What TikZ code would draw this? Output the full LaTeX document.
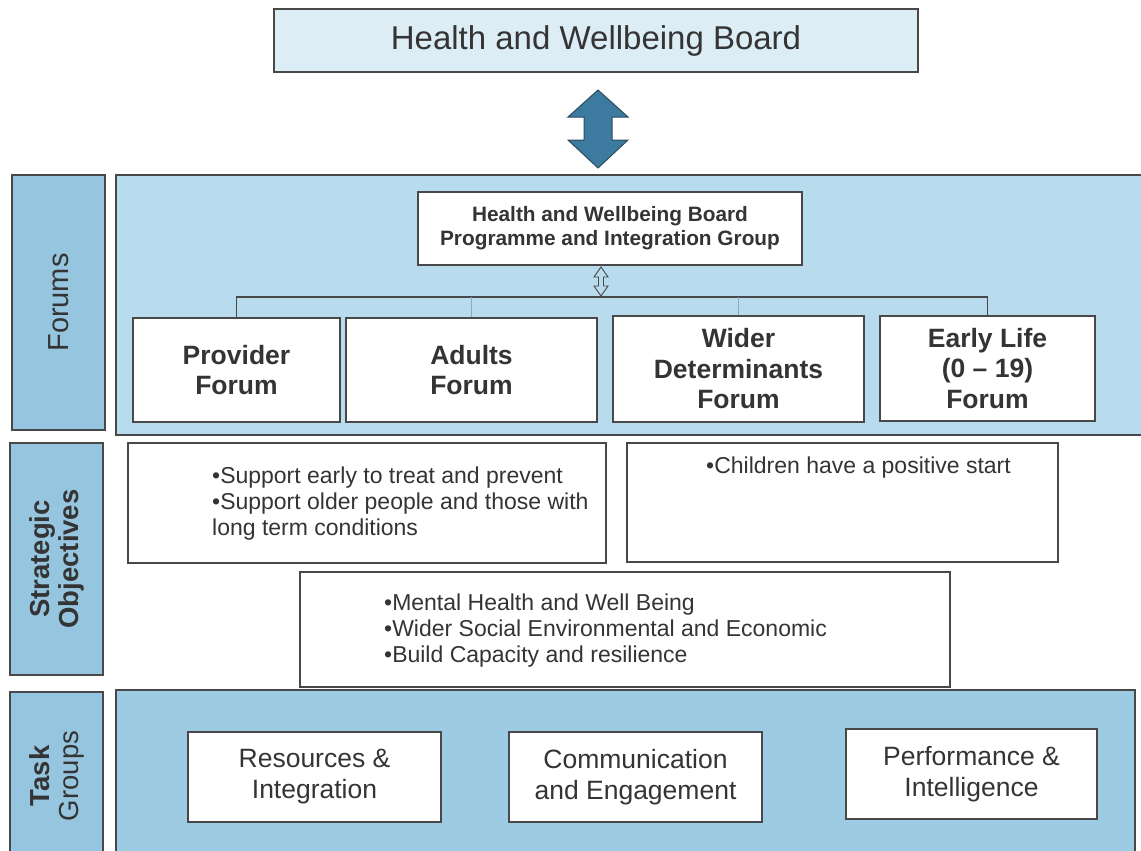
\documentclass[tikz,border=0pt]{standalone}
\usepackage{fontspec}
\setmainfont{Liberation Sans}
\usetikzlibrary{calc}
\definecolor{topfill}{RGB}{221,237,246}
\definecolor{forumfill}{RGB}{184,219,238}
\definecolor{labelfill}{RGB}{150,197,224}
\definecolor{taskfill}{RGB}{158,203,228}
\definecolor{edge}{RGB}{72,72,72}
\definecolor{ink}{RGB}{52,52,52}
\definecolor{arrowblue}{RGB}{60,122,160}
\definecolor{arrowedge}{RGB}{45,75,95}
\definecolor{faint}{RGB}{140,170,190}
\begin{document}
\begin{tikzpicture}[x=1pt,y=-1pt,
  frame/.style={draw=edge, line width=1.3pt, inner sep=0pt, text=ink},
  wbox/.style={frame, fill=white},
  lab/.style={frame, fill=labelfill, rotate=90, align=center},
  forumtxt/.style={font=\fontsize{26.5}{30.5}\selectfont\bfseries, align=center},
  tasktxt/.style={font=\fontsize{26.5}{31}\selectfont, align=center},
  sotxt/.style={inner sep=0pt, anchor=north west, align=left, text=ink,
    font=\fontsize{23}{26}\selectfont},
  line/.style={draw=edge, line width=1.3pt}]
\useasboundingbox (0,0) rectangle (1141,851);

% top board
\node[frame, fill=topfill, minimum width=644pt, minimum height=63pt,
  font=\fontsize{33}{36}\selectfont] (board) at (596,40.5) {Health and Wellbeing Board};

% big double arrow
\draw[fill=arrowblue, draw=arrowedge, line width=1pt]
  (598,90) -- (628,117) -- (612,117) -- (612,140) -- (628,140) -- (598,168)
  -- (568,140) -- (584,140) -- (584,117) -- (568,117) -- cycle;

% containers
\node[frame, fill=forumfill, minimum width=1034pt, minimum height=260pt] (forums) at (633,305) {};
\node[frame, fill=taskfill, minimum width=1019pt, minimum height=170pt] (tasks) at (625.5,775) {};

% side labels
\node[lab, minimum width=255pt, minimum height=93pt,
  font=\fontsize{29}{31}\selectfont] (forumlab) at (58.5,302.5) {Forums};
\node[lab, minimum width=232pt, minimum height=93pt,
  font=\fontsize{27.5}{29}\selectfont\bfseries] (stratlab) at (56.5,559) {Strategic\\Objectives};
\node[lab, minimum width=168pt, minimum height=93pt,
  font=\fontsize{27.5}{29}\selectfont] (tasklab) at (56.5,776) {\textbf{Task}\\Groups};

% programme and integration group
\node[wbox, minimum width=384pt, minimum height=73pt,
  font=\fontsize{20.8}{24}\selectfont\bfseries, align=center] (pig) at (610,228.5)
  {Health and Wellbeing Board\\Programme and Integration Group};

% forum boxes
\node[wbox, forumtxt, minimum width=207pt, minimum height=104pt] (prov) at (236.5,370) {Provider\\Forum};
\node[wbox, forumtxt, minimum width=251pt, minimum height=104pt] (adults) at (471.5,370) {Adults\\Forum};
\node[wbox, forumtxt, minimum width=251pt, minimum height=106pt] (wider) at (738.5,369) {Wider\\Determinants\\Forum};
\node[wbox, forumtxt, minimum width=215pt, minimum height=105pt] (early) at (987.5,368.5) {Early Life\\(0 -- 19)\\Forum};

% bracket connectors
\coordinate (bus) at (601,297);
\draw[line] (prov.north) |- (bus) -| (early.north);
\draw[draw=faint, line width=1pt] (adults.north) -- (adults.north |- bus);
\draw[draw=faint, line width=1pt] (wider.north) -- (wider.north |- bus);

% small open double arrow
\draw[draw=edge, fill=forumfill, line width=0.9pt]
  (601,267) -- (608,277) -- (603.5,277) -- (603.5,286) -- (608,286) -- (601,296)
  -- (594,286) -- (598.5,286) -- (598.5,277) -- (594,277) -- cycle;

% strategic objectives boxes
\node[wbox, minimum width=478pt, minimum height=120pt] (so1) at (367,503) {};
\node[sotxt] (so1t) at (212,467) {•Support early to treat and prevent\\•Support older people and those with\\long term conditions};
\node[wbox, minimum width=431pt, minimum height=119pt] (so2) at (842.5,502.5) {};
\node[sotxt] (so2t) at (706,457) {•Children have a positive start};
\node[wbox, minimum width=650pt, minimum height=115pt] (so3) at (625,629.5) {};
\node[sotxt] (so3t) at (384,594) {•Mental Health and Well Being\\•Wider Social Environmental and Economic\\•Build Capacity and resilience};

% task groups
\node[wbox, tasktxt, minimum width=253pt, minimum height=90pt] (res) at (314.5,777) {Resources \&\\Integration};
\node[wbox, tasktxt, minimum width=253pt, minimum height=90pt] (comm) at (635.5,777) {Communication\\and Engagement};
\node[wbox, tasktxt, minimum width=251pt, minimum height=90pt] (perf) at (971.5,774) {Performance \&\\Intelligence};
\end{tikzpicture}
\end{document}
